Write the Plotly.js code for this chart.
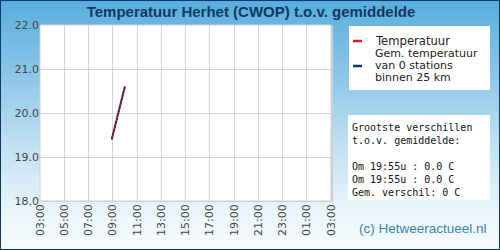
<!DOCTYPE html>
<html>
<head>
<meta charset="utf-8">
<script src="https://cdn.plot.ly/plotly-3.0.1.min.js"></script>
<style>
html,body{margin:0;padding:0;}
#chart{width:500px;height:250px;box-sizing:border-box;border:1px solid #0b3a66;
background:linear-gradient(to bottom,#58aedd 0%,#8cc6e8 30%,#c4e2f3 60%,#eaf5fb 85%,#f6fbfd 100%);}
</style>
</head>
<body>
<div id="chart"></div>
<script>
const titleText = "Temperatuur Herhet (CWOP) t.o.v. gemiddelde";
const times = ["2024-01-01 08:55", "2024-01-01 10:00"];
const temp = [19.4, 20.6];
const avgTemp = [19.4, 20.6];
const legendTemp = ["Temperatuur"];
const legendAvg = ["Gem. temperatuur", "van 0 stations", "binnen 25 km"];
const statsLines = ["Grootste verschillen", "t.o.v. gemiddelde:", "", "Om 19:55u : 0.0 C", "Om 19:55u : 0.0 C", "Gem. verschil: 0 C"];
const credit = "(c) Hetweeractueel.nl";
const xRange = ["2024-01-01 03:00", "2024-01-02 03:00"];
const yRange = [18, 22];

const W = 500, H = 250, L = 39, R = 170, T = 24, B = 50;
const pw = W - L - R, ph = H - T - B;
const px = x => (x - L) / pw;
const py = y => (H - B - y) / ph;

const traces = [
  {x: times, y: temp, mode: "lines", line: {color: "#e8141c", width: 2}, name: legendTemp[0], hoverinfo: "skip"},
  {x: times, y: avgTemp, mode: "lines", line: {color: "#0b3a66", width: 1.6, dash: "3px,1px"}, name: "gem", hoverinfo: "skip"}
];

const shapes = [
  {type: "rect", xref: "paper", yref: "paper", x0: px(L + 1), x1: px(L + pw + 2), y0: py(H - B + 1), y1: py(T + 1), fillcolor: "#cfcfcf", line: {width: 0}, layer: "below"},
  {type: "rect", xref: "paper", yref: "paper", x0: 0, x1: 1, y0: 0, y1: 1, fillcolor: "#ffffff", line: {color: "#d0d0d0", width: 1}, layer: "below"},
  {type: "rect", xref: "paper", yref: "paper", x0: px(348), x1: px(489), y0: py(89), y1: py(25), fillcolor: "#ffffff", line: {width: 0}},
  {type: "line", xref: "paper", yref: "paper", x0: px(352), x1: px(361), y0: py(40), y1: py(40), line: {color: "#e8141c", width: 2.5}},
  {type: "line", xref: "paper", yref: "paper", x0: px(352), x1: px(361), y0: py(65), y1: py(65), line: {color: "#0b3a66", width: 2.5}},
  {type: "rect", xref: "paper", yref: "paper", x0: px(347), x1: px(489), y0: py(199), y1: py(114), fillcolor: "#ffffff", line: {width: 0}}
];

const lfont = {family: "DejaVu Sans", size: 11.6, color: "#222"};
const annotations = [
  {text: legendTemp[0], xref: "paper", yref: "paper", x: px(372), y: py(40), xanchor: "left", yanchor: "middle", showarrow: false, font: lfont},
  {text: credit, xref: "paper", yref: "paper", x: px(488), y: py(227), xanchor: "right", yanchor: "middle", showarrow: false, font: {family: "Liberation Sans", size: 13.5, color: "#3c82ab"}}
];
legendAvg.forEach((s, i) => {
  annotations.push({text: s, xref: "paper", yref: "paper", x: px(372), y: py(52.5 + i * 12), xanchor: "left", yanchor: "middle", showarrow: false, font: {family: "DejaVu Sans", size: 11, color: "#222"}});
});
statsLines.forEach((s, i) => {
  if (s) annotations.push({text: s, xref: "paper", yref: "paper", x: px(349), y: py(126 + i * 13.1), xanchor: "left", yanchor: "middle", showarrow: false, font: {family: "DejaVu Sans Mono", size: 10, color: "#111"}});
});

const layout = {
  width: W, height: H,
  margin: {l: L, r: R, t: T, b: B, pad: 0},
  paper_bgcolor: "rgba(0,0,0,0)",
  plot_bgcolor: "rgba(0,0,0,0)",
  showlegend: false,
  title: {text: "<b>" + titleText + "</b>", x: 0.5, xanchor: "center", y: 1 - 11 / H, yanchor: "middle", font: {family: "Liberation Sans", size: 15, color: "#0f3862"}},
  xaxis: {type: "date", range: xRange, dtick: 2 * 3600 * 1000, tick0: "2024-01-01 03:00", tickformat: "%H:%M", tickangle: -90,
    showgrid: true, gridcolor: "#d4d4d4", gridwidth: 1, zeroline: false, showline: false, ticks: "", ticklen: 0,
    tickfont: {family: "DejaVu Sans", size: 11, color: "#444"}, fixedrange: true},
  yaxis: {range: yRange, dtick: 1, tickformat: ".1f", showgrid: true, gridcolor: "#d4d4d4", gridwidth: 1, zeroline: false, showline: false,
    ticks: "", tickfont: {family: "DejaVu Sans", size: 11, color: "#444"}, fixedrange: true},
  shapes: shapes,
  annotations: annotations
};

Plotly.newPlot("chart", traces, layout, {displayModeBar: false, staticPlot: true});
</script>
</body>
</html>
